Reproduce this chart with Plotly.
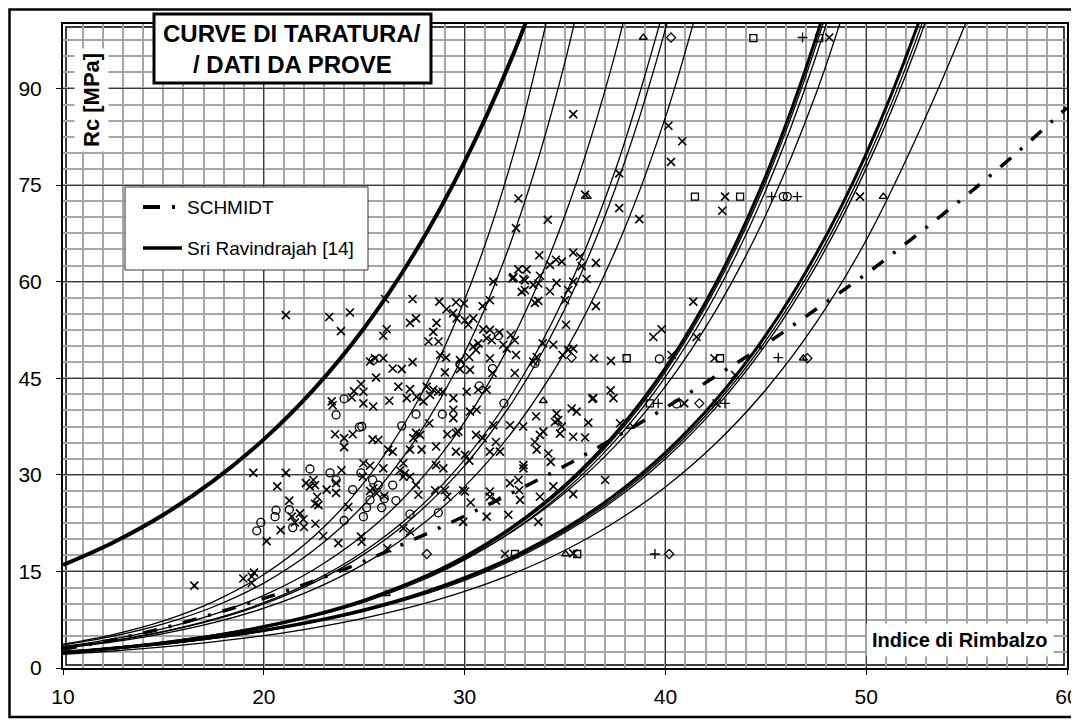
import plotly.graph_objects as go

# ---------------- data ----------------
X25 = [10.0, 12.5, 15.0, 17.5, 20.0, 22.5, 25.0, 27.5, 30.0, 32.5, 35.0,
       37.5, 40.0, 42.5, 45.0, 47.5, 50.0, 52.5, 55.0, 57.5, 60.0]

SRI_A = [16.0, 19.5, 23.8, 29.1, 35.5, 43.3, 52.8, 64.4, 78.6, 95.9, 117.0]
M1 = [3.69, 5.20, 7.32, 10.31, 14.52, 20.45, 28.81, 40.57, 57.16, 80.5, 113.4]
M2 = [3.56, 4.94, 6.85, 9.51, 13.19, 18.31, 25.40, 35.24, 48.90, 67.85, 94.13, 130.6]
M3 = [3.33, 4.52, 6.13, 8.31, 11.28, 15.30, 20.76, 28.16, 38.21, 51.83, 70.31, 95.39, 129.4]
M4 = [3.18, 4.25, 5.68, 7.59, 10.14, 13.56, 18.12, 24.21, 32.36, 43.24, 57.79, 77.24, 103.2]
M5 = [3.15, 4.20, 5.60, 7.46, 9.95, 13.26, 17.68, 23.57, 31.42, 41.89, 55.83, 74.43, 99.2, 132.3]
M6 = [3.06, 4.04, 5.33, 7.03, 9.29, 12.25, 16.17, 21.35, 28.17, 37.19, 49.08, 64.77, 85.5, 112.9]
SRI_N = [2.39, 3.06, 3.92, 5.02, 6.43, 8.24, 10.55, 13.52, 17.31, 22.17, 28.40, 36.37, 46.59, 59.67, 76.42, 97.87, 125.4]
N2 = [2.36, 3.02, 3.87, 4.96, 6.35, 8.13, 10.42, 13.35, 17.09, 21.89, 28.04, 35.91, 46.00, 58.92, 75.47, 96.64, 123.8]
N3 = [2.32, 2.97, 3.81, 4.87, 6.24, 8.00, 10.24, 13.12, 16.80, 21.52, 27.57, 35.31, 45.22, 57.92, 74.19, 95.00, 121.7]
N4 = [2.53, 3.21, 4.07, 5.16, 6.54, 8.30, 10.52, 13.34, 16.92, 21.45, 27.20, 34.49, 43.74, 55.46, 70.33, 89.18, 113.1]
SRI_P = [2.46, 3.06, 3.80, 4.72, 5.87, 7.30, 9.07, 11.28, 14.02, 17.42, 21.65, 26.92, 33.45, 41.58, 51.68, 64.24, 79.85, 99.26, 123.4]
P2 = [2.42, 3.01, 3.74, 4.65, 5.78, 7.18, 8.92, 11.09, 13.79, 17.14, 21.30, 26.48, 32.91, 40.91, 50.84, 63.20, 78.55, 97.65, 121.4]
P3 = [2.39, 2.97, 3.69, 4.59, 5.70, 7.09, 8.81, 10.96, 13.62, 16.93, 21.04, 26.15, 32.50, 40.40, 50.21, 62.41, 77.58, 96.44, 119.9]
P4 = [2.13, 2.64, 3.27, 4.06, 5.03, 6.24, 7.74, 9.59, 11.89, 14.75, 18.29, 22.67, 28.11, 34.85, 43.21, 53.58, 66.43, 82.37, 100.5, 122.0]
SCHMIDT = [2.9, 4.4, 6.2, 8.4, 10.8, 13.5, 16.6, 20.0, 23.6, 27.4, 31.4, 35.8, 40.4,
           45.3, 50.3, 55.7, 61.2, 67.2, 73.4, 80.0, 87.0]

X_PTS = [
 (33.72,64.1),(32.68,61.9),(33.09,61.9),(32.43,60.7),(32.93,60.4),(33.42,59.5),(33.67,59.7),(32.84,58.4),(33.0,58.7),(33.5,56.7),(33.67,57.0),(31.43,60.0),
 (21.1,54.8),(23.26,54.5),(24.29,55.2),(23.84,52.3),(26.04,57.3),(27.41,57.3),(28.74,56.9),(29.57,56.8),(29.97,56.6),(30.9,56.2),(31.26,57.1),
 (27.28,53.6),(27.58,54.3),(26.12,52.6),(25.95,51.6),(29.1,55.7),(29.43,55.1),(29.6,54.3),(28.6,53.6),(28.44,52.2),(30.02,54.0),(30.18,53.3),(30.43,54.3),
 (30.93,52.6),(31.26,52.5),(31.73,52.1),(32.3,51.7),(32.5,50.9),(28.2,50.7),(28.7,50.7),(30.43,49.9),(30.68,50.4),(30.57,49.4),(31.1,51.2),(31.35,50.9),
 (31.93,50.2),(32.1,49.6),(28.78,48.6),(29.08,48.2),(29.77,47.8),(30.23,48.3),(31.26,48.1),(32.56,48.6),(25.29,47.6),(25.54,48.1),(25.95,48.1),
 (26.42,46.5),(26.87,46.4),(27.41,47.5),(25.59,45.1),(29.02,45.9),(29.77,46.4),(30.27,46.3),(31.39,45.8),(32.5,45.8),
 (24.84,44.1),(24.96,42.9),(24.49,43.0),(24.38,42.0),(23.38,41.4),(23.43,40.8),(24.96,41.1),(25.45,40.6),(26.25,41.5),(26.7,43.7),
 (27.28,43.3),(27.12,41.9),(27.61,42.1),(28.11,43.7),(28.44,43.2),(28.28,42.4),(27.95,41.4),(28.69,42.9),(28.91,42.9),(29.44,41.9),
 (30.1,42.9),(30.68,43.2),(31.1,43.2),(29.44,40.1),(29.44,38.8),(30.27,39.8),(30.6,40.1),(28.24,38.0),(31.43,37.7),(32.26,37.7),(32.92,37.5),(33.56,39.1),
 (23.55,36.3),(24.0,35.7),(24.0,34.3),(24.43,36.3),(25.42,35.5),(25.7,35.4),(26.2,33.9),(26.42,33.6),(27.45,35.7),(27.78,36.2),(27.58,36.5),
 (27.28,33.9),(27.86,33.9),(28.58,34.4),(29.14,36.3),(29.57,36.5),(29.69,36.7),(29.57,33.6),(30.02,33.1),(30.23,32.2),(30.57,36.2),(30.9,35.7),
 (31.56,35.1),(31.26,33.6),(31.76,33.6),(33.5,35.1),(33.92,36.7),(33.75,36.2),(33.59,33.9),
 (19.48,30.3),(21.1,30.3),(20.67,28.2),(22.1,28.7),(22.3,28.2),(22.47,29.2),(22.55,28.4),(22.66,26.6),(22.55,25.5),(23.13,27.7),(23.6,28.7),(23.6,27.2),
 (23.87,30.7),(24.96,31.8),(25.29,31.4),(24.93,29.7),(25.95,31.0),(26.95,31.8),(26.78,30.7),(27.03,30.2),(26.95,29.7),(27.28,29.7),(27.58,28.4),
 (25.29,27.5),(25.45,27.9),(25.62,27.1),(28.53,27.6),(29.02,27.6),(27.7,26.9),(28.58,31.5),(28.94,31.0),(29.14,26.6),(30.02,27.4),(30.3,25.7),
 (31.26,27.4),(31.26,26.6),(31.56,26.0),(32.26,28.7),(32.68,29.2),(32.72,27.6),(32.93,31.0),(32.93,31.5),
 (21.27,26.0),(21.39,23.5),(21.8,24.0),(21.97,23.1),(22.0,21.9),(20.84,21.4),(22.57,22.4),(20.14,19.7),(22.96,20.5),(23.71,19.4),(24.21,25.0),
 (24.84,20.4),(24.87,19.6),(26.0,26.7),(26.95,21.7),(27.28,21.2),(31.1,23.5),(32.18,23.8),(33.67,22.7),(32.76,26.1),
 (26.15,18.6),(29.93,22.7),(32.01,17.7),(33.75,26.6),(21.55,22.6),(22.72,25.3),(29.93,27.6),
 (16.54,12.8),(18.98,13.9),(19.4,14.2),(19.51,14.8),(19.4,13.2),
 (35.41,86.0),(32.68,72.9),(36.0,73.5),(34.14,69.6),(32.56,68.3),(37.7,76.8),(37.7,71.4),(38.7,69.7),(40.15,84.2),(40.84,81.8),(40.28,78.6),
 (42.97,73.2),(42.83,71.0),(35.41,64.5),(35.75,63.9),(34.25,62.6),(34.55,63.4),(34.84,63.1),(36.54,62.9),(35.83,62.4),(35.41,60.0),(36.07,60.4),
 (34.58,59.8),(34.25,58.5),(33.75,60.9),(35.16,58.7),(35.0,57.1),(36.54,56.2),(35.05,53.3),(33.89,50.4),(34.42,50.2),(34.88,48.6),(35.16,49.4),
 (35.41,49.6),(36.44,48.1),(37.29,47.7),(40.31,48.6),(39.4,51.4),(39.81,52.6),(41.39,56.9),(41.55,51.4),(42.44,48.1),(43.47,45.5),(33.42,47.6),
 (33.59,48.3),(33.0,60.2),(32.39,60.5),
 (49.69,73.2),(37.27,43.1),(37.41,41.9),(36.41,41.9),(35.33,40.3),(35.58,39.8),(34.58,39.5),(34.66,38.5),(34.84,37.5),(34.5,38.2),(34.75,36.4),
 (35.41,35.9),(36.0,35.8),(36.16,38.1),(40.94,41.1),(42.55,41.1),(37.74,38.0),
 (35.41,17.8),(37.0,29.2),(35.41,27.0),(36.36,41.8),(34.17,33.3),(34.29,32.0),(34.42,28.2),(48.16,97.9),
]
CIRCLE_PTS = [
 (19.65,21.3),(19.85,22.6),(20.56,23.5),(20.61,24.5),(21.27,24.6),(21.44,21.8),(22.3,30.9),(23.3,30.3),(23.6,29.2),(24.0,41.8),(23.6,39.3),
 (24.76,37.4),(24.88,37.5),(24.84,30.3),(24.43,27.7),(24.0,22.9),(25.42,29.2),(25.7,28.4),(25.12,24.9),(24.96,23.5),(25.87,24.9),(26.0,26.3),
 (26.58,26.0),(26.42,28.4),(26.87,37.6),(27.58,39.4),(28.89,39.4),(27.28,23.9),(28.69,24.1),(30.73,43.8),(31.39,46.5),(31.96,41.1),(29.77,47.2),
 (33.5,47.3),(25.45,47.8),(31.68,51.6),(25.29,26.1),(39.7,48.0),(40.56,41.0),(45.87,73.2),(46.07,73.2),
]
SQUARE_PTS = [(32.51,17.7),(35.61,17.7),(38.07,48.1),(42.72,48.1),(39.23,41.1),(41.47,73.2),(43.72,73.2),(44.38,97.8),(47.66,97.8)]
TRIANGLE_PTS = [(33.92,41.5),(36.11,73.2),(46.87,48.1),(50.85,73.2),(38.9,97.9),(35.03,17.7),(38.24,37.5),(26.1,11.5)]
DIAMOND_PTS = [(28.12,17.7),(35.33,48.2),(41.69,41.1),(47.07,48.1),(40.19,17.7),(40.28,97.9)]
PLUS_PTS = [(45.29,73.2),(46.57,73.2),(39.64,41.1),(42.97,41.1),(45.62,48.2),(39.48,17.7),(46.83,97.9)]

X_TICKS = [10, 20, 30, 40, 50, 60]
Y_TICKS = [0, 15, 30, 45, 60, 75, 90]

# ---------------- figure ----------------
SANS = "Liberation Sans, Arial, sans-serif"

fig = go.Figure()

thin_curves = [M1, M2, M3, M4, M5, M6, N2, N3, N4, P2, P3, P4]
for yv in thin_curves:
    fig.add_trace(go.Scatter(x=X25[:len(yv)], y=yv, mode="lines",
                             line=dict(color="black", width=1.3, shape="spline"),
                             hoverinfo="skip"))
for yv, w in [(SRI_A, 4.0), (SRI_N, 3.0), (SRI_P, 3.0)]:
    fig.add_trace(go.Scatter(x=X25[:len(yv)], y=yv, mode="lines",
                             line=dict(color="black", width=w, shape="spline")))
fig.add_trace(go.Scatter(x=X25[:len(SCHMIDT)], y=SCHMIDT, mode="lines",
                         line=dict(color="black", width=3.5, shape="spline",
                                   dash="14px,12px,3px,12px")))

def add_pts(pts, symbol, size, lw):
    fig.add_trace(go.Scatter(x=[p[0] for p in pts], y=[p[1] for p in pts], mode="markers",
                             marker=dict(symbol=symbol, size=size, color="black",
                                         line=dict(color="black", width=lw))))

add_pts(X_PTS, "x-thin", 8, 1.6)
add_pts(CIRCLE_PTS, "circle-open", 8, 1.3)
add_pts(SQUARE_PTS, "square-open", 7, 1.3)
add_pts(TRIANGLE_PTS, "triangle-up-open", 7, 1.3)
add_pts(DIAMOND_PTS, "diamond-open", 7, 1.2)
add_pts(PLUS_PTS, "cross-thin", 7, 1.3)

# The page body has an 8px margin, so the figure is placed at (8, 8) on screen.
OFF = 8
W, H = 1079 - OFF, 722 - OFF
S_LEFT, S_RIGHT, S_TOP, S_BOTTOM = 63, 1067, 24, 668   # plot area in screen px
L, T = S_LEFT - OFF, S_TOP - OFF
R, B = W - (S_RIGHT - OFF), H - (S_BOTTOM - OFF)
PW, PH = S_RIGHT - S_LEFT, S_BOTTOM - S_TOP

def px(xs):
    return (xs - S_LEFT) / PW

def py(ys):
    return (S_BOTTOM - ys) / PH

axis_common = dict(showgrid=True, gridcolor="#3a3a3a", gridwidth=1,
                   showline=True, linecolor="black", linewidth=2, mirror=True,
                   ticks="outside", ticklen=5, tickcolor="black", zeroline=False,
                   automargin=False,
                   tickfont=dict(family=SANS, size=21, color="black"))

fig.update_layout(
    width=W, height=H, margin=dict(l=L, r=R, t=T, b=B, autoexpand=False),
    paper_bgcolor="white", plot_bgcolor="white", showlegend=False,
    xaxis=dict(range=[10, 60], tickvals=X_TICKS, ticklabelstandoff=4,
               minor=dict(dtick=1, showgrid=True, gridcolor="#a6a6a6", gridwidth=1.5),
               **axis_common),
    yaxis=dict(range=[0, 100], tickvals=Y_TICKS, ticklabelstandoff=10,
               minor=dict(dtick=2.5, showgrid=True, gridcolor="#a6a6a6", gridwidth=1.5),
               **axis_common),
)

shapes = [
    # inner line of the double plot-area border
    dict(type="rect", xref="paper", yref="paper", x0=px(66), x1=px(1064), y0=py(665), y1=py(27),
         line=dict(color="black", width=1.5), layer="between"),
    # outer frame
    dict(type="rect", xref="paper", yref="paper", x0=px(9.5), x1=px(1074), y0=py(717), y1=py(9.5),
         line=dict(color="black", width=2.5), layer="above"),
    # title box
    dict(type="rect", xref="paper", yref="paper", x0=px(154), x1=px(431), y0=py(83), y1=py(14),
         line=dict(color="black", width=3), fillcolor="white", layer="above"),
    # legend box
    dict(type="rect", xref="paper", yref="paper", x0=px(125), x1=px(368), y0=py(270), y1=py(187),
         line=dict(color="#333333", width=1), fillcolor="white", layer="above"),
    dict(type="line", xref="paper", yref="paper", x0=px(143), x1=px(176), y0=py(207), y1=py(207),
         line=dict(color="black", width=4, dash="17px,12px,3px,20px"), layer="above"),
    dict(type="line", xref="paper", yref="paper", x0=px(143), x1=px(182), y0=py(248), y1=py(248),
         line=dict(color="black", width=3.5), layer="above"),
]
fig.update_layout(shapes=shapes)

ann = [
    dict(text="<b>CURVE DI TARATURA/</b>", x=px(292), y=py(33), xref="paper", yref="paper",
         showarrow=False, xanchor="center", yanchor="middle",
         font=dict(family=SANS, size=24, color="black")),
    dict(text="<b>/ DATI DA PROVE</b>", x=px(292), y=py(64), xref="paper", yref="paper",
         showarrow=False, xanchor="center", yanchor="middle",
         font=dict(family=SANS, size=24, color="black")),
    dict(text="SCHMIDT", x=px(185), y=py(207), xref="paper", yref="paper",
         showarrow=False, xanchor="left", yanchor="middle",
         font=dict(family=SANS, size=19, color="black")),
    dict(text="Sri Ravindrajah [14]", x=px(185), y=py(249), xref="paper", yref="paper",
         showarrow=False, xanchor="left", yanchor="middle",
         font=dict(family=SANS, size=19, color="black")),
    dict(text="<b>Rc [MPa]</b>", x=px(91), y=py(100), xref="paper", yref="paper",
         showarrow=False, xanchor="center", yanchor="middle", textangle=-90,
         bgcolor="white", borderpad=4,
         font=dict(family=SANS, size=22, color="black")),
    dict(text="<b>Indice di Rimbalzo</b>", x=px(960), y=py(640), xref="paper", yref="paper",
         showarrow=False, xanchor="center", yanchor="middle",
         bgcolor="white", borderpad=5,
         font=dict(family=SANS, size=20, color="black")),
]
fig.update_layout(annotations=ann)

fig.write_html("out.html")
